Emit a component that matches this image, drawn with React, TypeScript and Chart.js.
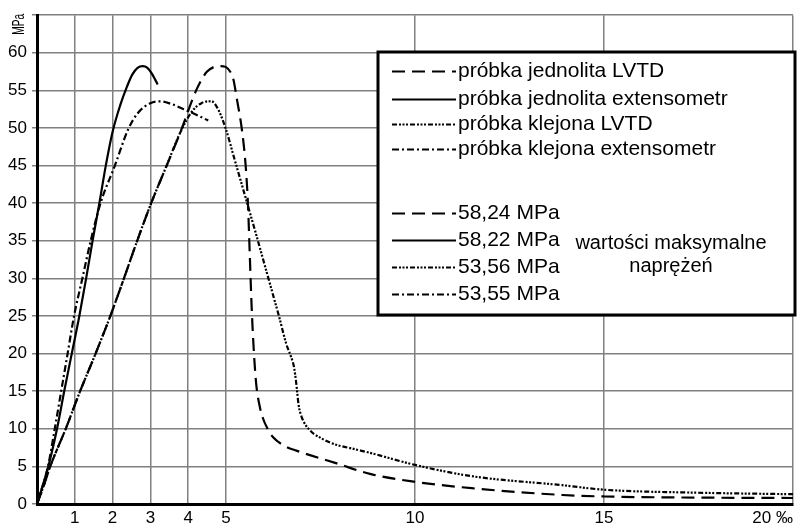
import { useEffect, useRef } from 'react';
import { Chart, registerables } from 'chart.js';

Chart.register(...registerables);

// ---- axis ticks ----
const xTickValues = [0, 1, 2, 3, 4, 5, 10, 15, 20];
const xTickLabels = ['', '1', '2', '3', '4', '5', '10', '15', '20 ‰'];
const yMax = 65;
const yStep = 5;
const yUnit = 'MPa';

// ---- series: próbka jednolita LVTD (max 58,24 MPa) ----
const jednolitaLvtdX = [0, 0.15, 0.35, 0.76, 1.14, 1.55, 1.94, 2.3, 2.65, 3.02, 3.43, 3.79, 4.22, 4.5, 4.85, 5.17, 5.3, 5.42, 5.52, 5.58, 5.63, 5.68, 5.74, 5.8, 5.9, 5.97, 6.1, 6.24, 6.6, 6.86, 7.93, 8.81, 10, 11.5, 13.9, 15, 17.5, 20];
const jednolitaLvtdY = [0, 2, 5, 10, 15, 20, 25, 30, 35, 40, 45, 49.4, 55.1, 57.5, 58.24, 56.9, 53.5, 49.8, 45, 40, 33, 26, 20, 15.9, 12.8, 11.5, 10, 8.9, 7.6, 7.1, 5.4, 4.0, 2.95, 2.1, 1.2, 1.0, 0.85, 0.8];

// ---- series: próbka jednolita extensometr (max 58,22 MPa) ----
const jednolitaExtX = [0, 0.3, 0.53, 0.72, 0.92, 1.12, 1.3, 1.47, 1.65, 1.82, 2.0, 2.2, 2.38, 2.52, 2.66, 2.8, 2.92, 3.03, 3.12, 3.19];
const jednolitaExtY = [0, 5, 10, 15, 20, 25, 30, 35, 40, 45, 49.5, 53, 55.5, 57.1, 58.0, 58.22, 58.0, 57.3, 56.5, 55.8];

// ---- series: próbka klejona LVTD (max 53,56 MPa) ----
const klejonaLvtdX = [0, 0.15, 0.35, 0.76, 1.14, 1.55, 1.94, 2.3, 2.65, 3.02, 3.43, 3.79, 4.1, 4.35, 4.61, 4.78, 5.0, 5.2, 5.4, 5.6, 5.8, 6.0, 6.2, 6.4, 6.6, 6.72, 6.8, 6.86, 6.92, 7.0, 7.22, 7.5, 7.84, 8.4, 8.81, 10, 11.5, 13.9, 15, 17.5, 20];
const klejonaLvtdY = [0, 2, 5, 10, 15, 20, 25, 30, 35, 40, 45, 49.4, 52.2, 53.3, 53.56, 52.6, 49.8, 46.3, 42.8, 39.3, 35.8, 32.2, 28.6, 25, 21.2, 19.6, 18.2, 16, 13.2, 11.6, 9.8, 8.8, 8.0, 7.3, 6.8, 5.2, 3.7, 2.5, 1.9, 1.5, 1.3];

// ---- series: próbka klejona extensometr (max 53,55 MPa) ----
const klejonaExtX = [0, 0.29, 0.47, 0.64, 0.81, 0.98, 1.2, 1.42, 1.68, 2.06, 2.41, 2.67, 3.0, 3.27, 3.55, 3.88, 4.2, 4.53];
const klejonaExtY = [0, 5, 10, 15, 20, 25, 30, 35, 40, 45, 49.8, 52, 53.3, 53.55, 53.2, 52.5, 51.8, 51];

// ---- legend texts ----
const seriesLabels = ['próbka jednolita LVTD', 'próbka jednolita extensometr', 'próbka klejona LVTD', 'próbka klejona extensometr'];
const maxLabels = ['58,24 MPa', '58,22 MPa', '53,56 MPa', '53,55 MPa'];
const noteLines = ['wartości maksymalne', 'naprężeń'];

const FONT = '"Liberation Sans", Arial, sans-serif';

const dashes: number[][] = [
  [13, 7],
  [],
  [5, 2, 2, 1.5, 2, 1.5, 2, 2],
  [7, 3, 2, 3],
];

function pts(xs: number[], ys: number[]) {
  return xs.map((x, i) => ({ x, y: ys[i] }));
}

const boxLegend = {
  id: 'boxLegend',
  afterDraw(chart: any) {
    const ctx = chart.ctx as CanvasRenderingContext2D;
    const bx = 378, by = 52, bw = 417, bh = 263;
    ctx.save();
    ctx.fillStyle = '#fff';
    ctx.fillRect(bx, by, bw, bh);
    ctx.lineWidth = 3;
    ctx.strokeStyle = '#000';
    ctx.setLineDash([]);
    ctx.strokeRect(bx, by, bw, bh);

    const rowsA = [71, 99, 124, 149];
    const rowsB = [213, 240, 267, 294];
    ctx.font = `21px ${FONT}`;
    ctx.fillStyle = '#000';
    ctx.textBaseline = 'middle';
    const drawSample = (i: number, y: number) => {
      const ds = chart.data.datasets[i];
      ctx.save();
      ctx.lineWidth = 2;
      ctx.strokeStyle = '#000';
      ctx.setLineDash(ds.borderDash || []);
      ctx.beginPath();
      ctx.moveTo(392, y + 0.5);
      ctx.lineTo(456, y + 0.5);
      ctx.stroke();
      ctx.restore();
    };
    seriesLabels.forEach((t, i) => {
      drawSample(i, rowsA[i]);
      ctx.textAlign = 'left';
      ctx.fillText(t, 458, rowsA[i]);
    });
    maxLabels.forEach((t, i) => {
      drawSample(i, rowsB[i]);
      ctx.textAlign = 'left';
      ctx.fillText(t, 458, rowsB[i]);
    });
    ctx.font = `20px ${FONT}`;
    ctx.textAlign = 'center';
    ctx.fillText(noteLines[0], 671, 243);
    ctx.fillText(noteLines[1], 671, 266);
    ctx.restore();
  },
};

const unitLabel = {
  id: 'unitLabel',
  afterDraw(chart: any) {
    const ctx = chart.ctx as CanvasRenderingContext2D;
    const y = chart.scales.y.getPixelForValue(yMax);
    ctx.save();
    ctx.translate(19, y + 9);
    ctx.rotate(-Math.PI / 2);
    ctx.scale(0.6, 1);
    ctx.font = `17px ${FONT}`;
    ctx.fillStyle = '#000';
    ctx.textAlign = 'center';
    ctx.textBaseline = 'middle';
    ctx.fillText(yUnit, 0, 0);
    ctx.restore();
  },
};

export default function App() {
  const ref = useRef<HTMLCanvasElement>(null);
  useEffect(() => {
    if (!ref.current) return;
    const series = [
      pts(jednolitaLvtdX, jednolitaLvtdY),
      pts(jednolitaExtX, jednolitaExtY),
      pts(klejonaLvtdX, klejonaLvtdY),
      pts(klejonaExtX, klejonaExtY),
    ];
    const chart = new Chart(ref.current, {
      type: 'line',
      data: {
        datasets: series.map((data, i) => ({
          label: seriesLabels[i],
          data,
          borderColor: '#000',
          borderWidth: 2.2,
          borderDash: dashes[i],
          pointRadius: 0,
          fill: false,
          cubicInterpolationMode: 'monotone' as const,
        })),
      },
      options: {
        responsive: false,
        animation: false,
        layout: { padding: { top: 13, right: 9, left: 0, bottom: 0 } },
        plugins: { legend: { display: false }, tooltip: { enabled: false } },
        scales: {
          x: {
            type: 'linear',
            min: 0,
            max: 20,
            afterBuildTicks: (s: any) => {
              s.ticks = xTickValues.map((v) => ({ value: v }));
            },
            afterFit: (s: any) => {
              s.height = 21;
            },
            ticks: {
              autoSkip: false,
              maxRotation: 0,
              align: 'inner',
              padding: 4,
              color: '#000',
              font: { family: FONT, size: 17 },
              callback: (_v: any, i: number) => xTickLabels[i] ?? '',
            },
            grid: { color: '#808080', lineWidth: 1.5, drawTicks: false },
            border: { color: '#000', width: 3 },
          },
          y: {
            type: 'linear',
            min: 0,
            max: yMax,
            afterFit: (s: any) => {
              s.width = 37;
            },
            ticks: {
              stepSize: yStep,
              padding: 5,
              color: '#000',
              font: { family: FONT, size: 17 },
              callback: (v: any) => (v === yMax ? '' : String(v)),
            },
            grid: { color: '#808080', lineWidth: 1.5, tickLength: 5 },
            border: { color: '#000', width: 3 },
          },
        },
      },
      plugins: [boxLegend, unitLabel],
    } as any);
    return () => chart.destroy();
  }, []);
  return (
    <div style={{ position: 'fixed', left: 0, top: 0, width: 802, height: 525, background: '#fff' }}>
      <canvas ref={ref} width={802} height={525} />
    </div>
  );
}
